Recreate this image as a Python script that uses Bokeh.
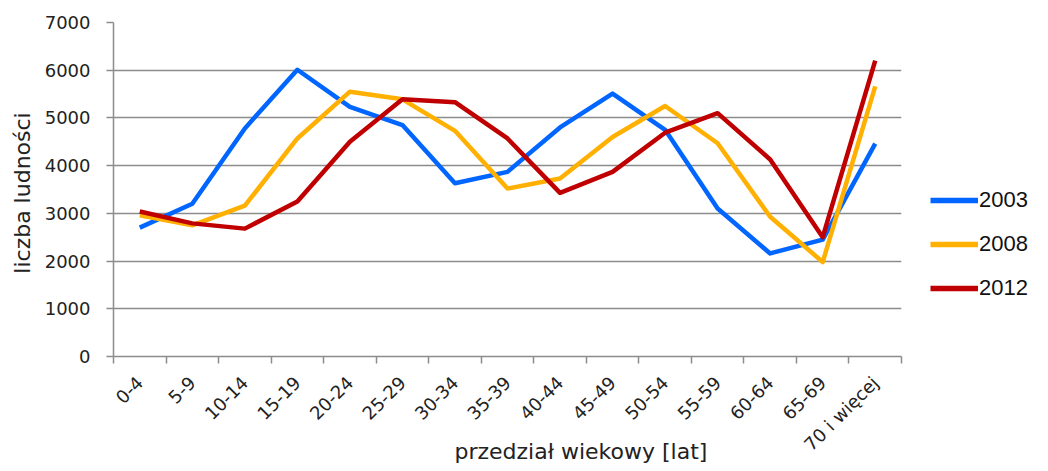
from bokeh.plotting import figure
from bokeh.layouts import row
from bokeh.models import Range1d, FixedTicker, Legend, LegendItem
from bokeh.embed import file_html
from bokeh.resources import INLINE

categories = ["0-4", "5-9", "10-14", "15-19", "20-24", "25-29", "30-34", "35-39",
              "40-44", "45-49", "50-54", "55-59", "60-64", "65-69", "70 i więcej"]
y2003 = [2700, 3200, 4780, 6010, 5230, 4850, 3630, 3870, 4800, 5510, 4750, 3100, 2160, 2450, 4460]
y2008 = [2960, 2750, 3160, 4570, 5550, 5390, 4730, 3520, 3730, 4600, 5250, 4470, 2930, 1980, 5660]
y2012 = [3040, 2790, 2680, 3250, 4500, 5390, 5330, 4570, 3430, 3870, 4690, 5100, 4130, 2500, 6200]
series_names = ["2003", "2008", "2012"]
y_ticks = [0, 1000, 2000, 3000, 4000, 5000, 6000, 7000]
colors = ["#0066ff", "#ffb000", "#c00000"]
x_title = "przedział wiekowy [lat]"
y_title = "liczba  ludności"

n = len(categories)
xs = [i + 0.5 for i in range(n)]
series = [y2003, y2008, y2012]
H = 469

p = figure(width=906, height=H, output_backend="svg", toolbar_location=None,
           x_range=Range1d(0, n), y_range=Range1d(0, 7000),
           min_border_left=113, min_border_top=22, min_border_right=5, min_border_bottom=113)
p.outline_line_color = None
p.xgrid.grid_line_color = None
p.ygrid.grid_line_color = "#8c8c8c"
p.ygrid.grid_line_width = 1.5
p.ygrid.ticker = FixedTicker(ticks=y_ticks)

# y axis
p.yaxis.ticker = FixedTicker(ticks=y_ticks)
p.yaxis.axis_line_color = "#8c8c8c"
p.yaxis.axis_line_width = 1.5
p.yaxis.major_tick_line_color = "#8c8c8c"
p.yaxis.major_tick_line_width = 1.5
p.yaxis.major_tick_in = 0
p.yaxis.major_tick_out = 7
p.yaxis.minor_tick_line_color = None
p.yaxis.major_label_text_font = "DejaVu Sans"
p.yaxis.major_label_text_font_size = "18px"
p.yaxis.major_label_text_color = "#222222"
p.yaxis.major_label_standoff = 16
p.yaxis.axis_label = y_title
p.yaxis.axis_label_text_font = "DejaVu Sans"
p.yaxis.axis_label_text_font_size = "22px"
p.yaxis.axis_label_text_font_style = "normal"
p.yaxis.axis_label_text_color = "#222222"
p.yaxis.axis_label_standoff = 7

# x axis
p.xaxis.ticker = FixedTicker(ticks=xs, minor_ticks=list(range(n + 1)))
p.xaxis.major_label_overrides = {x: c for x, c in zip(xs, categories)}
p.xaxis.major_label_orientation = 0.785
p.xaxis.axis_line_color = "#8c8c8c"
p.xaxis.axis_line_width = 1.5
p.xaxis.major_tick_line_color = None
p.xaxis.major_tick_in = 0
p.xaxis.major_tick_out = 0
p.xaxis.minor_tick_line_color = "#8c8c8c"
p.xaxis.minor_tick_line_width = 1.5
p.xaxis.minor_tick_in = 0
p.xaxis.minor_tick_out = 7
p.xaxis.major_label_text_font = "DejaVu Sans"
p.xaxis.major_label_text_font_size = "18px"
p.xaxis.major_label_text_color = "#222222"
p.xaxis.major_label_standoff = 16
# leading no-break spaces shift the centred title to the right, as in the original
p.xaxis.axis_label = "\u00a0" * 21 + x_title
p.xaxis.axis_label_text_font = "DejaVu Sans"
p.xaxis.axis_label_text_font_size = "22px"
p.xaxis.axis_label_text_font_style = "normal"
p.xaxis.axis_label_text_color = "#222222"
p.xaxis.axis_label_standoff = -26

for ys, col in zip(series, colors):
    p.line(xs, ys, line_color=col, line_width=4.5, line_join="round")

# legend panel (its copies of the series lie outside its visible range)
p2 = figure(width=126, height=H, output_backend="svg", toolbar_location=None,
            x_range=Range1d(-2, -1), y_range=Range1d(0, 7000), min_border=0,
            x_axis_location=None, y_axis_location=None)
p2.grid.visible = False
p2.outline_line_color = None
legend_renderers = [p2.line(xs, ys, line_color=col, line_width=5.5) for ys, col in zip(series, colors)]
legend = Legend(items=[LegendItem(label=s, renderers=[r]) for s, r in zip(series_names, legend_renderers)],
                location=(24, 54), glyph_width=48, glyph_height=28, label_standoff=1,
                spacing=16, padding=0, margin=0, border_line_color=None,
                background_fill_alpha=0, label_text_font="Liberation Sans",
                label_text_font_size="22px", label_text_color="#111111", label_height=28)
p2.add_layout(legend)

open("out.html", "w").write(file_html(row(p, p2), INLINE))
